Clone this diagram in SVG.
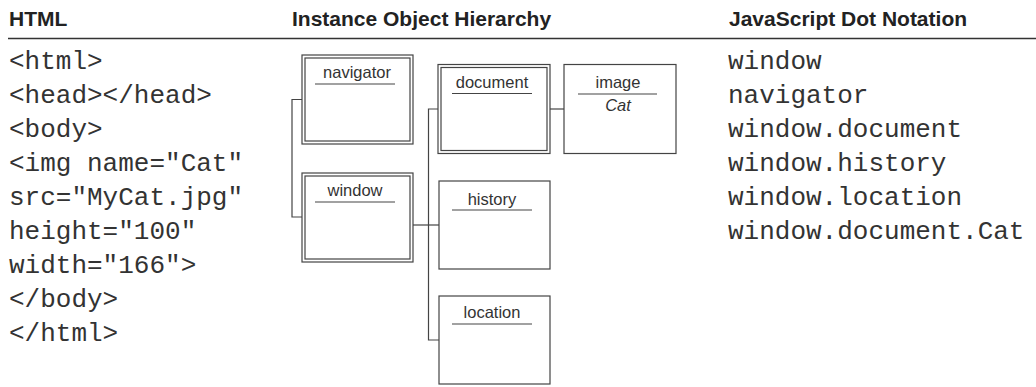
<svg xmlns="http://www.w3.org/2000/svg" width="1036" height="387" viewBox="0 0 1036 387">
  <style>
    .hdr { font-family: "Liberation Sans", Arial, sans-serif; font-weight: bold; font-size: 21px; fill: #222; }
    .code { font-family: "Liberation Mono", "Courier New", monospace; font-size: 26px; fill: #333; }
    .lbl { font-family: "Liberation Sans", Arial, sans-serif; font-size: 16.5px; fill: #333; text-anchor: middle; }
    .it { font-style: italic; }
    .box { fill: #fff; stroke: #444; stroke-width: 1.2; }
    .rule { stroke: #444; stroke-width: 1.2; }
    .wire { fill: none; stroke: #444; stroke-width: 1.2; }
  </style>
  <rect width="1036" height="387" fill="#fff"/>

  <!-- column headings -->
  <text class="hdr" x="9" y="26">HTML</text>
  <text class="hdr" x="292" y="26">Instance Object Hierarchy</text>
  <text class="hdr" x="729" y="26">JavaScript Dot Notation</text>
  <line x1="8" y1="38.5" x2="1036" y2="38.5" stroke="#333" stroke-width="1.6"/>

  <!-- HTML source -->
  <g id="html-source" class="code">
    <text x="9" y="69">&lt;html&gt;</text>
    <text x="9" y="103">&lt;head&gt;&lt;/head&gt;</text>
    <text x="9" y="137">&lt;body&gt;</text>
    <text x="9" y="171">&lt;img name="Cat"</text>
    <text x="9" y="205">src="MyCat.jpg"</text>
    <text x="9" y="239">height="100"</text>
    <text x="9" y="273">width="166"&gt;</text>
    <text x="9" y="307">&lt;/body&gt;</text>
    <text x="9" y="341">&lt;/html&gt;</text>
  </g>

  <!-- dot notation -->
  <g id="dot-notation" class="code">
    <text x="728" y="69">window</text>
    <text x="728" y="103">navigator</text>
    <text x="728" y="137">window.document</text>
    <text x="728" y="171">window.history</text>
    <text x="728" y="205">window.location</text>
    <text x="728" y="239">window.document.Cat</text>
  </g>

  <!-- connectors -->
  <g id="connectors" class="wire">
    <polyline points="302,99.5 292,99.5 292,217 302,217"/>
    <line x1="413" y1="225" x2="439" y2="225"/>
    <polyline points="438,109 428.5,109 428.5,340 439,340"/>
    <line x1="550" y1="109" x2="564" y2="109"/>
  </g>

  <!-- nodes -->
  <g id="navigator">
    <rect class="box" x="302" y="55" width="111" height="89"/>
    <rect class="box" x="305" y="58" width="105" height="83"/>
    <text class="lbl" x="357" y="78">navigator</text>
    <line class="rule" x1="315" y1="84" x2="395" y2="84"/>
  </g>
  <g id="window">
    <rect class="box" x="302" y="173" width="111" height="89"/>
    <rect class="box" x="305" y="176" width="105" height="83"/>
    <text class="lbl" x="355" y="196">window</text>
    <line class="rule" x1="315" y1="202" x2="395" y2="202"/>
  </g>
  <g id="document">
    <rect class="box" x="438" y="64.5" width="112" height="89"/>
    <rect class="box" x="441" y="67.5" width="106" height="83"/>
    <text class="lbl" x="492" y="88">document</text>
    <line class="rule" x1="452" y1="93.5" x2="532" y2="93.5"/>
  </g>
  <g id="image">
    <rect class="box" x="564" y="64.5" width="112" height="89"/>
    <text class="lbl" x="618" y="88" font-size="15.5">image</text>
    <line class="rule" x1="578" y1="94" x2="657" y2="94"/>
    <text class="lbl it" x="618" y="111" font-size="15.5">Cat</text>
  </g>
  <g id="history">
    <rect class="box" x="439" y="181" width="111" height="88"/>
    <text class="lbl" x="492" y="205">history</text>
    <line class="rule" x1="452" y1="210" x2="532" y2="210"/>
  </g>
  <g id="location">
    <rect class="box" x="439" y="296" width="111" height="88"/>
    <text class="lbl" x="492" y="318">location</text>
    <line class="rule" x1="452" y1="324" x2="532" y2="324"/>
  </g>
</svg>
